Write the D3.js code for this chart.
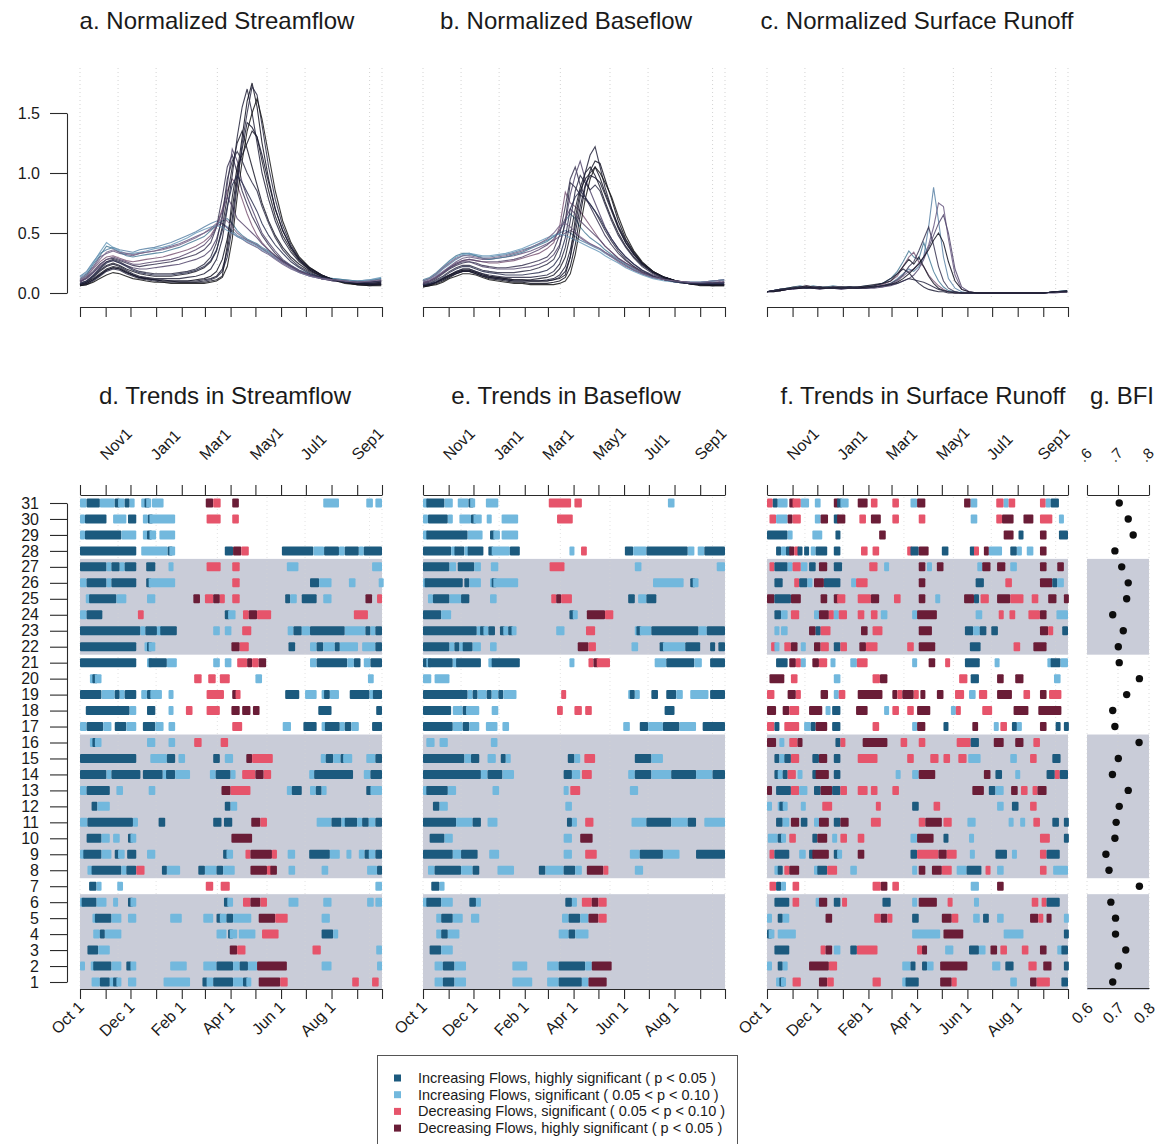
<!DOCTYPE html>
<html><head><meta charset="utf-8">
<script src="https://cdn.jsdelivr.net/npm/d3@7"></script>
<style>
body{margin:0;background:#fff;}
svg text{font-family:"Liberation Sans",Arial,Helvetica,sans-serif;fill:#1a1a1a;}
</style></head><body>
<svg id="fig" width="1166" height="1144"></svg>
<script>
// ---------------- data ----------------
// days since Oct 1 at which the normalized hydrographs are sampled
const dayGrid = [0,8,16,24,32,40,48,56,64,72,80,90,100,110,120,130,140,150,158,165,172,178,184,190,196,202,208,214,220,228,236,245,255,265,278,292,306,320,335,350,364];

const streamflowSeries = [
  [0.14,0.18,0.26,0.33,0.36,0.38,0.36,0.35,0.34,0.36,0.37,0.38,0.40,0.42,0.45,0.48,0.51,0.55,0.58,0.60,0.58,0.55,0.52,0.48,0.46,0.44,0.42,0.40,0.37,0.34,0.30,0.26,0.22,0.18,0.15,0.13,0.12,0.11,0.10,0.11,0.12],
  [0.12,0.16,0.22,0.30,0.33,0.35,0.33,0.32,0.31,0.33,0.34,0.35,0.37,0.39,0.41,0.44,0.47,0.50,0.53,0.56,0.58,0.54,0.50,0.47,0.45,0.42,0.40,0.38,0.35,0.32,0.28,0.24,0.20,0.17,0.14,0.12,0.11,0.10,0.09,0.10,0.11],
  [0.11,0.15,0.24,0.31,0.39,0.37,0.34,0.31,0.30,0.31,0.32,0.33,0.34,0.36,0.38,0.41,0.44,0.47,0.52,0.57,0.60,0.62,0.58,0.52,0.48,0.45,0.43,0.41,0.38,0.35,0.31,0.27,0.23,0.19,0.16,0.13,0.12,0.11,0.10,0.10,0.12],
  [0.10,0.14,0.20,0.26,0.30,0.31,0.29,0.27,0.26,0.27,0.28,0.29,0.30,0.32,0.34,0.36,0.39,0.43,0.48,0.56,0.70,0.85,0.95,0.90,0.78,0.66,0.56,0.48,0.42,0.36,0.31,0.26,0.22,0.18,0.15,0.12,0.11,0.10,0.09,0.09,0.10],
  [0.09,0.13,0.18,0.24,0.28,0.29,0.27,0.25,0.23,0.22,0.23,0.24,0.25,0.26,0.28,0.30,0.32,0.36,0.42,0.55,0.80,1.05,1.15,1.00,0.85,0.74,0.64,0.56,0.48,0.40,0.33,0.27,0.22,0.18,0.15,0.12,0.10,0.09,0.08,0.09,0.10],
  [0.10,0.12,0.17,0.22,0.26,0.27,0.25,0.23,0.21,0.20,0.20,0.21,0.22,0.23,0.24,0.26,0.28,0.31,0.36,0.45,0.62,0.90,1.20,1.10,0.92,0.80,0.70,0.60,0.50,0.42,0.35,0.28,0.23,0.19,0.15,0.12,0.10,0.09,0.08,0.08,0.09],
  [0.08,0.10,0.14,0.19,0.23,0.25,0.23,0.20,0.18,0.16,0.15,0.14,0.14,0.14,0.15,0.16,0.18,0.21,0.26,0.35,0.55,0.80,1.05,1.25,1.35,1.20,1.05,0.90,0.75,0.60,0.48,0.38,0.30,0.24,0.18,0.14,0.11,0.09,0.08,0.08,0.09],
  [0.07,0.09,0.13,0.18,0.22,0.24,0.22,0.19,0.16,0.14,0.13,0.12,0.12,0.12,0.12,0.13,0.14,0.16,0.20,0.28,0.45,0.70,0.98,1.30,1.55,1.70,1.50,1.25,1.00,0.78,0.60,0.45,0.34,0.26,0.19,0.14,0.11,0.09,0.08,0.08,0.08],
  [0.06,0.08,0.11,0.15,0.19,0.21,0.20,0.17,0.15,0.13,0.12,0.11,0.10,0.10,0.10,0.10,0.11,0.12,0.14,0.18,0.28,0.45,0.70,1.00,1.30,1.60,1.75,1.55,1.25,0.95,0.70,0.52,0.38,0.28,0.20,0.15,0.11,0.09,0.07,0.07,0.07],
  [0.06,0.07,0.10,0.14,0.18,0.20,0.19,0.16,0.14,0.12,0.11,0.10,0.09,0.09,0.09,0.09,0.09,0.10,0.11,0.13,0.18,0.30,0.55,0.90,1.25,1.50,1.72,1.65,1.40,1.05,0.78,0.56,0.40,0.29,0.21,0.15,0.11,0.09,0.07,0.06,0.07],
  [0.06,0.07,0.09,0.12,0.15,0.17,0.16,0.14,0.12,0.11,0.10,0.09,0.09,0.08,0.08,0.08,0.08,0.08,0.09,0.10,0.13,0.22,0.45,0.80,1.10,1.35,1.50,1.62,1.45,1.15,0.85,0.60,0.42,0.30,0.21,0.15,0.11,0.08,0.07,0.06,0.06],
  [0.08,0.10,0.15,0.21,0.26,0.28,0.26,0.23,0.20,0.18,0.17,0.16,0.16,0.16,0.17,0.18,0.20,0.24,0.30,0.42,0.65,0.95,1.10,1.18,1.10,1.00,0.92,0.85,0.72,0.58,0.46,0.36,0.28,0.22,0.17,0.13,0.11,0.10,0.09,0.09,0.10],
  [0.07,0.09,0.12,0.16,0.20,0.22,0.21,0.18,0.15,0.13,0.12,0.11,0.10,0.10,0.09,0.09,0.09,0.09,0.10,0.11,0.14,0.40,0.80,1.05,1.15,1.25,1.35,1.30,1.10,0.85,0.64,0.48,0.36,0.27,0.19,0.14,0.11,0.09,0.08,0.07,0.07],
  [0.13,0.17,0.25,0.34,0.42,0.38,0.35,0.33,0.33,0.34,0.35,0.37,0.38,0.40,0.43,0.46,0.50,0.53,0.55,0.56,0.55,0.52,0.50,0.47,0.45,0.43,0.41,0.39,0.36,0.33,0.29,0.25,0.21,0.17,0.14,0.12,0.11,0.10,0.10,0.11,0.13],
  [0.09,0.12,0.17,0.23,0.28,0.30,0.28,0.26,0.24,0.24,0.25,0.26,0.27,0.28,0.30,0.33,0.36,0.40,0.46,0.55,0.68,0.80,0.72,0.62,0.58,0.54,0.50,0.46,0.41,0.36,0.31,0.26,0.22,0.18,0.15,0.12,0.11,0.10,0.09,0.09,0.10],
  [0.07,0.08,0.11,0.15,0.19,0.21,0.20,0.17,0.15,0.13,0.12,0.11,0.11,0.10,0.10,0.10,0.10,0.11,0.12,0.14,0.20,0.35,0.62,0.95,1.20,1.42,1.38,1.30,1.15,0.92,0.70,0.52,0.38,0.28,0.20,0.15,0.11,0.09,0.08,0.07,0.08],
  [0.08,0.10,0.14,0.20,0.25,0.27,0.25,0.22,0.19,0.17,0.16,0.15,0.15,0.15,0.16,0.17,0.19,0.22,0.27,0.36,0.52,0.72,0.90,0.98,0.92,0.84,0.76,0.68,0.58,0.48,0.40,0.33,0.26,0.21,0.16,0.13,0.11,0.09,0.09,0.09,0.10],
  [0.11,0.14,0.21,0.28,0.34,0.36,0.34,0.33,0.32,0.33,0.34,0.35,0.36,0.38,0.40,0.43,0.46,0.50,0.54,0.58,0.62,0.60,0.55,0.50,0.47,0.44,0.42,0.40,0.37,0.33,0.29,0.25,0.21,0.17,0.14,0.12,0.11,0.10,0.09,0.10,0.11]
];

const baseflowSeries = [
  [0.10,0.12,0.15,0.20,0.24,0.28,0.31,0.32,0.31,0.30,0.30,0.31,0.32,0.34,0.36,0.38,0.41,0.44,0.47,0.50,0.52,0.50,0.47,0.44,0.42,0.40,0.38,0.36,0.33,0.30,0.27,0.23,0.19,0.16,0.13,0.11,0.10,0.09,0.09,0.10,0.11],
  [0.09,0.11,0.14,0.18,0.22,0.26,0.29,0.30,0.29,0.28,0.28,0.29,0.30,0.31,0.33,0.35,0.38,0.41,0.44,0.47,0.50,0.52,0.50,0.46,0.43,0.41,0.39,0.37,0.34,0.31,0.27,0.23,0.19,0.16,0.13,0.11,0.10,0.09,0.08,0.09,0.10],
  [0.11,0.13,0.17,0.22,0.27,0.31,0.33,0.33,0.31,0.29,0.28,0.29,0.30,0.32,0.34,0.37,0.40,0.43,0.47,0.52,0.60,0.66,0.62,0.55,0.50,0.46,0.43,0.40,0.36,0.32,0.28,0.24,0.20,0.16,0.13,0.11,0.10,0.09,0.09,0.10,0.11],
  [0.08,0.10,0.13,0.17,0.21,0.24,0.27,0.28,0.27,0.26,0.25,0.25,0.26,0.27,0.29,0.31,0.33,0.37,0.42,0.55,0.84,0.75,0.72,0.68,0.62,0.56,0.50,0.44,0.39,0.34,0.29,0.25,0.21,0.17,0.14,0.11,0.10,0.09,0.08,0.08,0.09],
  [0.08,0.09,0.12,0.16,0.20,0.23,0.25,0.26,0.25,0.23,0.22,0.21,0.21,0.22,0.23,0.25,0.27,0.30,0.36,0.48,0.72,0.95,1.05,0.90,0.80,0.72,0.64,0.56,0.48,0.40,0.33,0.27,0.22,0.17,0.14,0.11,0.09,0.08,0.08,0.08,0.09],
  [0.09,0.10,0.13,0.17,0.21,0.24,0.26,0.26,0.24,0.22,0.21,0.20,0.20,0.20,0.21,0.22,0.24,0.27,0.32,0.40,0.58,0.82,0.98,1.10,0.95,0.85,0.75,0.65,0.55,0.45,0.37,0.30,0.24,0.19,0.15,0.12,0.10,0.09,0.08,0.08,0.09],
  [0.06,0.07,0.09,0.12,0.15,0.18,0.20,0.20,0.18,0.16,0.14,0.13,0.12,0.11,0.11,0.11,0.12,0.13,0.15,0.20,0.30,0.48,0.70,0.88,1.00,1.05,0.98,0.88,0.76,0.62,0.50,0.39,0.30,0.23,0.17,0.13,0.10,0.08,0.07,0.07,0.07],
  [0.06,0.07,0.09,0.11,0.14,0.17,0.19,0.19,0.17,0.15,0.13,0.12,0.11,0.10,0.10,0.10,0.10,0.11,0.12,0.15,0.22,0.36,0.56,0.80,1.00,1.15,1.22,1.05,0.88,0.70,0.55,0.42,0.32,0.24,0.17,0.13,0.10,0.08,0.07,0.06,0.07],
  [0.05,0.06,0.08,0.10,0.13,0.16,0.18,0.18,0.16,0.14,0.12,0.11,0.10,0.09,0.09,0.08,0.08,0.08,0.09,0.10,0.13,0.22,0.40,0.65,0.88,1.02,1.10,1.08,0.95,0.78,0.60,0.45,0.34,0.25,0.18,0.13,0.10,0.08,0.07,0.06,0.06],
  [0.06,0.07,0.09,0.12,0.15,0.18,0.20,0.20,0.18,0.16,0.15,0.14,0.13,0.13,0.13,0.13,0.14,0.15,0.18,0.24,0.38,0.60,0.85,0.98,0.92,0.86,0.90,0.85,0.74,0.60,0.48,0.38,0.29,0.22,0.16,0.12,0.10,0.08,0.07,0.07,0.08],
  [0.05,0.06,0.07,0.09,0.12,0.14,0.16,0.16,0.15,0.13,0.11,0.10,0.09,0.08,0.08,0.07,0.07,0.07,0.07,0.08,0.10,0.16,0.32,0.55,0.78,0.95,1.05,1.00,0.92,0.80,0.64,0.48,0.35,0.26,0.18,0.13,0.10,0.08,0.06,0.06,0.06],
  [0.07,0.08,0.11,0.14,0.18,0.21,0.23,0.23,0.21,0.19,0.18,0.17,0.17,0.17,0.18,0.19,0.21,0.24,0.28,0.38,0.60,0.92,0.88,0.82,0.78,0.74,0.68,0.60,0.52,0.43,0.35,0.28,0.22,0.18,0.14,0.11,0.09,0.08,0.08,0.08,0.09],
  [0.06,0.07,0.09,0.12,0.15,0.17,0.19,0.19,0.17,0.15,0.14,0.13,0.12,0.11,0.11,0.10,0.10,0.10,0.11,0.12,0.15,0.30,0.62,0.85,0.95,1.00,1.05,0.96,0.84,0.70,0.56,0.44,0.33,0.25,0.18,0.13,0.10,0.08,0.07,0.07,0.07],
  [0.10,0.12,0.16,0.21,0.26,0.30,0.32,0.33,0.32,0.31,0.31,0.32,0.33,0.35,0.37,0.40,0.43,0.46,0.48,0.49,0.48,0.46,0.44,0.42,0.40,0.38,0.36,0.34,0.31,0.28,0.25,0.21,0.18,0.15,0.12,0.10,0.09,0.09,0.09,0.10,0.11],
  [0.08,0.10,0.13,0.17,0.21,0.25,0.27,0.28,0.27,0.26,0.26,0.26,0.27,0.28,0.30,0.33,0.36,0.40,0.45,0.52,0.62,0.70,0.66,0.60,0.56,0.52,0.48,0.44,0.39,0.34,0.29,0.25,0.21,0.17,0.14,0.11,0.10,0.09,0.08,0.08,0.09],
  [0.06,0.07,0.09,0.11,0.14,0.16,0.18,0.18,0.16,0.14,0.13,0.12,0.11,0.10,0.10,0.10,0.10,0.10,0.11,0.13,0.18,0.30,0.50,0.72,0.90,0.98,0.96,0.92,0.82,0.68,0.54,0.42,0.32,0.24,0.17,0.13,0.10,0.08,0.07,0.07,0.07],
  [0.07,0.08,0.10,0.13,0.17,0.20,0.22,0.22,0.20,0.18,0.17,0.16,0.15,0.15,0.15,0.16,0.17,0.19,0.23,0.30,0.46,0.70,0.80,0.85,0.80,0.74,0.68,0.62,0.54,0.45,0.37,0.30,0.24,0.19,0.14,0.11,0.09,0.08,0.08,0.08,0.08],
  [0.10,0.12,0.16,0.21,0.25,0.29,0.31,0.31,0.30,0.29,0.29,0.30,0.31,0.33,0.35,0.38,0.41,0.45,0.50,0.56,0.58,0.55,0.51,0.47,0.44,0.41,0.39,0.37,0.34,0.30,0.26,0.22,0.19,0.16,0.13,0.11,0.10,0.09,0.09,0.10,0.11]
];

const runoffSeries = [
  [0.01,0.02,0.03,0.04,0.04,0.05,0.04,0.05,0.05,0.04,0.05,0.04,0.04,0.04,0.05,0.05,0.06,0.08,0.12,0.16,0.20,0.18,0.22,0.30,0.55,0.88,0.60,0.30,0.12,0.04,0.01,0.00,0.00,0.00,0.00,0.00,0.00,0.00,0.00,0.01,0.02],
  [0.01,0.02,0.02,0.03,0.04,0.04,0.05,0.04,0.04,0.05,0.04,0.04,0.05,0.04,0.04,0.05,0.05,0.07,0.10,0.14,0.18,0.20,0.25,0.30,0.40,0.55,0.75,0.72,0.45,0.15,0.03,0.01,0.00,0.00,0.00,0.00,0.00,0.00,0.00,0.01,0.01],
  [0.01,0.02,0.03,0.04,0.05,0.06,0.05,0.06,0.05,0.05,0.06,0.05,0.05,0.05,0.06,0.06,0.08,0.12,0.18,0.26,0.35,0.30,0.28,0.42,0.30,0.18,0.10,0.05,0.02,0.01,0.00,0.00,0.00,0.00,0.00,0.00,0.00,0.00,0.00,0.01,0.02],
  [0.01,0.02,0.02,0.03,0.04,0.05,0.06,0.05,0.05,0.04,0.05,0.05,0.04,0.05,0.05,0.06,0.07,0.10,0.14,0.22,0.30,0.34,0.26,0.22,0.15,0.10,0.06,0.03,0.01,0.00,0.00,0.00,0.00,0.00,0.00,0.00,0.00,0.00,0.00,0.01,0.01],
  [0.01,0.02,0.03,0.03,0.04,0.05,0.05,0.04,0.05,0.04,0.04,0.05,0.05,0.04,0.05,0.05,0.06,0.08,0.11,0.15,0.22,0.26,0.35,0.45,0.55,0.40,0.22,0.10,0.04,0.01,0.00,0.00,0.00,0.00,0.00,0.00,0.00,0.00,0.00,0.01,0.01],
  [0.01,0.01,0.02,0.03,0.03,0.04,0.04,0.04,0.03,0.04,0.04,0.03,0.04,0.04,0.04,0.04,0.05,0.06,0.08,0.10,0.12,0.15,0.20,0.28,0.38,0.48,0.58,0.65,0.50,0.20,0.05,0.01,0.00,0.00,0.00,0.00,0.00,0.00,0.00,0.00,0.01],
  [0.01,0.02,0.03,0.04,0.05,0.05,0.06,0.05,0.05,0.05,0.05,0.05,0.05,0.05,0.06,0.07,0.08,0.10,0.16,0.22,0.28,0.24,0.30,0.22,0.14,0.08,0.04,0.02,0.01,0.00,0.00,0.00,0.00,0.00,0.00,0.00,0.00,0.00,0.00,0.01,0.02],
  [0.01,0.02,0.02,0.03,0.04,0.04,0.04,0.05,0.04,0.04,0.05,0.04,0.05,0.05,0.05,0.06,0.08,0.12,0.16,0.20,0.17,0.12,0.08,0.05,0.03,0.02,0.01,0.01,0.00,0.00,0.00,0.00,0.00,0.00,0.00,0.00,0.00,0.00,0.00,0.01,0.01],
  [0.01,0.01,0.02,0.03,0.04,0.04,0.05,0.04,0.04,0.04,0.04,0.04,0.04,0.04,0.05,0.05,0.06,0.07,0.09,0.12,0.16,0.20,0.24,0.30,0.36,0.44,0.50,0.42,0.26,0.10,0.03,0.01,0.00,0.00,0.00,0.00,0.00,0.00,0.00,0.01,0.01],
  [0.01,0.02,0.03,0.03,0.04,0.05,0.04,0.04,0.05,0.04,0.04,0.04,0.05,0.04,0.04,0.05,0.06,0.07,0.08,0.10,0.12,0.11,0.10,0.09,0.07,0.05,0.03,0.02,0.01,0.01,0.00,0.00,0.00,0.00,0.00,0.00,0.00,0.00,0.00,0.01,0.01]
];

// line colours of the individual hydrographs
const seriesColors = ["#5b82a6","#6a5a82","#4a7d98","#7d5877","#3a3552","#52466c","#1c1c2c","#22223a","#101020","#2a2a44","#141414","#303048","#1a1a28","#6b9bbb","#5a4a70","#191930","#2c3050","#7a6a8c"];

// trend runs per basin (basin 1 first); D/L = increasing (p<0.05 / p<0.10), P/M = decreasing (p<0.10 / p<0.05); numbers = days since Oct 1
const streamflowTrends = [
  "L14-24 D24-36 L36-40 D40-44 L44-50 L58-68 L101-133 D148-153 L153-161 D161-185 L185-197 D197-201 L201-207 M216-242 P242-251 P329-337 P353-361",
  "L0-2 L13-16 D16-38 L38-50 D56-61 L61-68 L109-129 L149-165 D165-185 L185-193 D193-203 L203-214 M214-250 L292-304 L359-365",
  "D9-22 L22-36 M181-190 P190-200 P281-291 L358-365",
  "L16-24 D24-30 L30-50 L165-177 D179-181 L181-190 L192-212 P220-240 D292-306 L306-312",
  "L15-18 D18-38 L38-50 L58-68 L109-123 L149-161 D165-169 L169-177 D177-185 L185-207 M216-236 P236-251 L292-302",
  "L0-2 D2-20 L20-32 L40-46 D58-61 L61-68 D174-178 L178-185 P197-206 M206-218 P218-226 L252-264 L294-304 L347-355 L357-365",
  "D11-20 L20-26 L45-52 P152-161 P170-181 L357-365",
  "L9-14 D14-50 L50-56 D56-68 P68-78 D99-105 L105-121 D143-151 L151-165 D165-173 L173-187 M206-226 P226-230 M230-238 L252-260 L292-300 L347-359 D359-365",
  "L0-4 D4-26 L26-38 D42-46 L46-54 D57-68 L81-91 D173-177 L177-185 P200-206 M206-232 P232-238 L251-260 D277-302 L302-314 L322-328 L337-344 D344-349 L349-357 D357-365",
  "D8-26 L26-36 L40-48 D58-61 L61-68 M183-208",
  "L0-9 D9-64 L64-70 D95-103 D161-171 D174-184 M207-218 P218-226 L286-304 D304-316 L316-320 D320-335 L335-341 D341-349 L349-357 D357-365",
  "D14-21 L21-36 D175-182 L182-190",
  "L0-8 D8-36 L44-52 L83-91 M171-182 P182-206 L250-256 D256-268 L278-285 D285-292 L292-298 D346-351 L351-365",
  "D0-32 L32-38 D38-73 D76-100 L100-104 D104-115 L115-133 L157-164 D164-182 L182-186 P196-212 M212-222 P222-231 L277-283 D283-330 L343-351 D351-365",
  "D0-68 L85-105 D105-115 L119-127 D161-169 L175-185 M201-208 P208-233 L291-297 D297-306 L306-315 D315-318 L318-329 L346-357 D357-365",
  "L12-15 D15-18 L18-26 L81-91 L107-115 P138-147 P170-179",
  "L0-8 D8-28 L28-38 D42-56 L56-68 D76-91 L91-101 L107-115 P184-196 L245-255 D270-286 L292-296 D296-314 L314-320 D320-328 L328-337 D353-365",
  "D7-60 L60-68 D81-91 L107-113 P128-136 P153-169 M183-193 M196-206 M209-217 D288-304 D358-365",
  "D0-26 L26-42 D42-48 L48-54 D54-68 L74-81 D81-85 L85-99 L107-113 P153-174 M184-188 P188-194 D248-265 L272-286 L292-295 D295-302 L302-313 D326-350 L350-354 D354-365",
  "L12-15 D15-18 L18-26 P138-147 P155-164 P169-181 L212-220 L348-355",
  "D0-68 L81-83 D83-105 L105-117 L161-169 L175-183 P190-202 M202-208 P208-216 M216-225 L278-286 D286-323 L323-331 D331-339 L343-351 D351-365",
  "D0-68 L78-81 D81-83 L83-91 M183-193 P193-204 D252-260 L278-286 D286-294 L294-308 D308-314 L314-336 L341-357 D357-365",
  "D0-73 L73-79 D79-93 L93-97 D97-117 L161-169 L175-183 P196-207 L251-258 D258-268 L268-278 D278-320 L320-345 D345-351 L351-357 D357-365",
  "L0-8 D8-27 P70-77 D175-179 L179-188 P197-204 M204-214 P214-231 P331-348",
  "L7-11 D11-44 L44-56 L81-91 M137-145 P151-161 M161-169 P169-175 P184-193 D248-254 L254-262 D268-286 L294-304 M345-353 P359-365",
  "L0-8 D8-32 L32-38 D38-68 D80-83 L83-115 P184-193 D278-289 L289-304 L325-333 L361-365",
  "D0-32 L32-38 D38-48 L48-54 D54-68 D80-91 L107-113 P153-170 P184-193 L250-264 L353-365",
  "D0-68 L74-106 D106-108 L108-115 D175-185 M185-195 P195-204 D244-282 L282-295 D295-313 L313-320 D320-337 L337-343 D343-365",
  "L0-6 D6-50 L50-68 L76-81 D81-84 L84-92 L96-115",
  "L0-6 D6-32 L40-56 D58-68 L76-82 D82-84 L84-115 P153-170 P184-192",
  "L0-8 D8-24 L24-42 D42-46 L46-54 D54-60 L60-66 L74-78 D78-80 L80-82 L87-101 M152-161 P161-170 M184-192 L294-313 L346-354 L357-365"
];

const baseflowTrends = [
  "L14-24 D24-38 L38-52 L108-132 L150-164 D164-192 L192-200 M200-222",
  "L14-24 D24-38 L38-52 L108-126 L150-164 D164-196 L196-204 M204-228",
  "D8-22 L22-36",
  "L16-22 D22-30 L30-44 L164-176 D176-184 L184-200",
  "L16-22 D22-36 L36-48 L58-68 L168-176 D176-190 L190-200 M200-212 P212-222",
  "L0-4 D4-22 L22-36 D56-64 L64-70 D172-180 L180-186 P192-204 M204-212 P212-222",
  "D10-20 L20-26",
  "L6-14 D14-46 L46-60 D60-68 L90-110 D140-148 L148-170 D170-184 L184-192 M198-218 P218-224 L256-266",
  "D0-36 L36-46 D46-66 L80-92 L170-180 P196-210 L250-262 D262-290 L290-310 D330-365",
  "D8-26 L26-36 L170-180 M190-205",
  "D0-40 L40-60 D60-70 L78-90 D174-180 L180-186 P196-206 L252-270 D270-300 L300-320 D320-330 L340-365",
  "D12-20 L20-30 L172-180",
  "L0-4 D4-30 L30-40 L84-92 L170-176 P178-190 L250-260",
  "D0-70 L70-78 D78-96 L96-110 D170-180 L180-190 P192-204 L248-256 D256-276 L276-300 D300-330 L330-350 D350-365",
  "D0-50 L50-58 D58-68 L78-88 D94-100 L100-106 D175-183 L183-190 P195-208 D256-276 L276-290",
  "L4-14 L20-30 L82-90",
  "D0-36 L36-48 D48-56 L56-68 L76-90 L96-104 L242-250 D262-272 L272-290 D290-310 L310-330 D338-365",
  "D0-34 L36-48 D48-52 L52-68 L83-91 P162-169 P183-192 P196-204 D292-304",
  "D0-54 L54-60 D60-66 L66-77 D77-83 L83-91 D91-97 L97-113 P167-173 L248-250 D250-256 L256-258 D276-284 D294-306 L306-314 L323-345 D347-365",
  "L0-10 L14-32",
  "D0-4 L4-6 D6-36 L36-40 D40-70 L79-83 D83-117 L177-183 P200-206 M206-210 P210-226 L280-294 D294-328 L328-337 D347-365",
  "D0-32 L32-38 D38-44 L44-48 D48-60 L60-70 L81-89 M187-200 P200-209 L252-260 D286-290 L290-317 D317-335 D347-353 D357-365",
  "D0-65 L65-69 D69-73 L73-77 D79-87 D93-97 L97-103 D103-107 L107-111 L161-171 P197-208 L256-258 D258-262 L262-276 D276-333 L333-343 D343-365",
  "D0-22 L22-34 D177-181 L181-187 M198-220 P220-230",
  "L6-12 D12-32 L32-46 D46-56 L81-89 P155-161 M161-167 P167-180 D248-256 L260-270 D270-282",
  "L0-2 D2-48 D50-56 L56-70 L81-83 D83-85 L85-115 L278-315 D323-326 L326-333",
  "D0-32 L32-40 D42-62 L62-70 L82-91 P153-171 L256-264 L355-365",
  "D0-34 L34-38 D38-50 L50-54 D54-73 D79-83 L83-105 D105-117 L177-183 P191-198 D244-254 L254-270 D270-320 L320-328 L332-340 D340-365",
  "L0-4 D4-54 L54-72 D81-85 L85-93 L95-115",
  "L0-6 D6-30 L30-36 L44-58 D58-61 L61-71 L77-83 L95-115 P162-181",
  "L0-4 D4-26 L26-36 L42-55 D55-57 L57-60 L76-91 P152-179 P183-192 L296-304"
];

const runoffTrends = [
  "L11-15 D15-17 L17-19 P31-41 M63-73 P73-81 P128-138 L164-168 D168-184 M210-224 P224-230 L295-303 M319-327 P327-343 D357-365",
  "L0-5 D13-19 L19-25 M51-75 P75-85 L164-174 D174-178 D188-194 L194-202 M210-243 L273-283 D289-299 P317-327 M335-345 D360-365",
  "D9-27 P65-71 M71-79 L81-89 D101-109 P109-134 P182-188 M188-192 L216-226 D245-257 L257-265 M271-279 P283-291 P309-317 M331-339 L352-356 D357-365",
  "D0-2 L2-9 L13-35 L176-210 M214-238 L287-311 D360-365",
  "L0-5 D13-19 L19-27 M71-79 P130-138 M138-146 P146-150 D176-184 M212-224 P224-232 L250-258 D262-269 L279-287 M319-329 P329-335 M339-345 L360-365",
  "D9-27 P31-39 L59-63 M63-73 D81-89 P91-97 D140-150 L176-182 M184-206 P219-225 L251-257 P321-329 P333-339 D339-355",
  "P3-11 D11-17 L17-23 P31-39 P128-138 M138-146 P152-160 L247-257 M279-287",
  "L9-13 D13-19 P21-27 M27-39 L57-61 D61-73 P73-85 L101-109 L176-180 M184-192 M200-212 P212-224 L230-242 D242-260 P265-271 L279-287 P331-339 L347-365",
  "P3-9 D9-27 L39-47 D51-55 M55-75 D81-85 L85-89 M110-118 D174-182 P182-208 M208-218 P218-230 L246-252 D277-291 L297-303 P331-339 D339-355",
  "L1-13 D13-17 L17-23 P27-35 D55-61 M61-73 L79-85 P89-97 P110-118 L174-182 M182-202 D214-220 L245-251 P331-343 D360-365",
  "D11-19 L19-27 M29-39 D41-49 L57-63 M63-75 D81-89 M89-99 P126-138 P184-192 M192-212 P214-224 L243-253 L293-299 L307-313 P323-331 D346-354 D360-365",
  "L0-5 L13-15 D15-19 L19-23 L41-47 P67-79 P132-138 D176-184 P202-210 L279-287 D297-305 P319-327",
  "M0-5 D11-29 P29-39 L39-49 D57-65 M65-79 D79-89 P89-97 P110-122 P126-134 P152-160 M249-263 D269-277 L277-287 M296-304 P308-316 P322-328 M328-339",
  "D9-13 L13-19 D19-25 P25-35 L37-43 D55-59 M59-75 D81-89 L156-162 L176-184 M184-204 M263-271 D277-285 L301-307 D339-349 P349-355 D355-365",
  "D9-15 L15-21 D21-29 P29-39 D55-63 M63-73 D81-89 P110-134 P170-178 P198-208 P214-222 P232-242 L244-259 L295-303 P319-327 D346-356",
  "M0-11 L15-19 P27-37 M37-43 D83-89 P89-95 M116-146 P162-170 P184-192 P230-247 D247-257 M275-287 M301-311 P323-331",
  "P0-9 D9-15 P21-39 L45-53 D53-59 M59-73 D79-89 P128-136 L176-182 M182-192 D214-220 M249-256 L275-281 P283-291 D297-303 L303-309 M331-339 D350-356 D360-365",
  "M0-11 M19-27 P27-39 M51-67 L71-77 D79-89 M108-122 L142-148 P152-160 P170-178 M182-198 L223-229 P229-235 P261-273 M299-317 M329-357",
  "P0-9 M25-35 P35-41 M65-74 L81-85 P87-95 M110-140 M152-158 P158-164 M164-178 P178-182 M186-192 M206-214 P228-239 L245-253 P257-267 M279-297 P311-319 M331-339 P342-357",
  "M3-21 P29-37 L81-89 P128-137 M137-146 P233-243 D247-257 M279-287 M301-311 L348-356",
  "D11-25 M27-35 P35-41 L41-47 M55-63 P63-73 L77-83 L101-109 P109-122 L176-182 M196-204 P216-222 D240-258 L276-282 L340-344 D344-356 L356-365",
  "P5-9 L9-13 P21-29 M29-37 L41-47 M57-65 P65-75 D81-89 P89-97 M112-120 P120-134 P170-178 M184-204 D246-259 P299-307 M323-339",
  "L9-15 L17-25 M51-59 D59-65 P65-77 M114-122 P128-140 M184-200 D240-250 L250-258 D258-266 D272-280 M331-341 P341-345 D358-365",
  "D9-17 L17-25 P29-39 L57-63 M63-75 P75-81 L81-85 P87-97 P110-118 P126-134 L138-146 L176-182 M182-206 L253-261 P281-287 P294-301 P317-331 M331-339 L351-365",
  "M0-9 D9-29 M29-41 M65-73 M81-85 P85-95 P110-126 M126-136 P154-162 M184-192 L204-210 M239-251 D251-257 P259-269 M279-295 P295-311 P321-329 M341-351 M360-365",
  "D9-19 P33-39 D39-49 L49-53 M57-69 D69-89 L102-108 P108-122 M184-192 D253-263 P289-297 M331-346 D346-352 L352-360",
  "P3-9 D9-25 L25-31 P31-41 L41-49 D51-59 M63-73 D81-91 P124-134 L142-148 M184-192 L194-200 M206-214 L255-261 M261-271 M279-289 L295-303 M331-339 M352-360",
  "D11-17 L17-23 D23-27 M27-33 P33-37 D37-43 D45-49 L53-59 D59-73 D81-89 P114-122 P128-136 P170-174 D174-184 M184-196 D212-220 D246-251 P251-257 M263-269 L269-285 D295-303 L303-309 L315-323 M331-339",
  "D0-25 L25-31 L55-67 D83-89 M136-144 M287-299 D305-311 M331-339 D354-365",
  "P3-11 L11-25 M25-31 P31-41 L58-65 M65-74 D81-85 M85-95 P112-120 M126-138 P152-160 P184-192 L247-255 P278-285 M285-299 M311-323 P331-346 L354-360",
  "P0-7 D7-13 L13-25 M27-31 P31-41 L41-51 L58-65 M81-85 D85-89 L89-99 M110-122 P126-134 P152-160 L174-182 M182-192 M239-247 L247-255 P278-287 L287-293 P293-301 P331-338 L338-344 D344-354"
];

// baseflow index per basin (basin 1 first)
const bfiValues = [0.683,0.701,0.725,0.692,0.692,0.677,0.769,0.671,0.661,0.690,0.694,0.704,0.733,0.682,0.701,0.768,0.690,0.683,0.728,0.769,0.704,0.701,0.717,0.683,0.728,0.733,0.712,0.690,0.749,0.733,0.704];

// basins grouped into shaded regions
const shadedGroups = [[1,6],[8,16],[22,27]];

const monthDays = [0,31,61,92,123,151,182,212,243,273,304,335,365];
const topMonthLabels = [[31,"Nov1"],[92,"Jan1"],[151,"Mar1"],[212,"May1"],[273,"Jul1"],[335,"Sep1"]];
const bottomMonthLabels = [[0,"Oct 1"],[61,"Dec 1"],[123,"Feb 1"],[182,"Apr 1"],[243,"Jun 1"],[304,"Aug 1"]];
const guideDays = [0,46,92,166,226,272,350,365];
const topTitles = ["a. Normalized Streamflow","b. Normalized Baseflow","c. Normalized Surface Runoff"];
const trendTitles = ["d. Trends in Streamflow","e. Trends in Baseflow","f. Trends in Surface Runoff","g. BFI"];
const legendLabels = [
  ["D","Increasing Flows, highly significant ( p < 0.05 )"],
  ["L","Increasing Flows, significant ( 0.05 < p < 0.10 )"],
  ["P","Decreasing Flows, significant ( 0.05 < p < 0.10 )"],
  ["M","Decreasing Flows, highly significant ( p < 0.05 )"]
];

// ---------------- drawing ----------------
const classColor = {D:"#1c5a7e", L:"#72b8dd", P:"#e6546b", M:"#6a1d37"};
const bandColor = "#c9ccd8";
const axisColor = "#2a2a2a";

const svg = d3.select("#fig");
const panelRanges = [[80,382],[423,725],[767,1068]];
const xScales = panelRanges.map(r => d3.scaleLinear().domain([0,365]).range(r));
const yTop = d3.scaleLinear().domain([0,1.5]).range([293,113]);
const yRow = d3.scaleLinear().domain([1,31]).range([982,503]);
const xBfi = d3.scaleLinear().domain([0.6,0.8]).range([1087,1149]);
const rowHalf = (yRow(1) - yRow(2)) / 2;

function styleAxis(g){
  g.selectAll("path,line").attr("stroke",axisColor).attr("stroke-width",1.1);
  g.select(".domain").attr("fill","none");
}

// ---- upper row: normalized hydrographs ----
const topData = [streamflowSeries, baseflowSeries, runoffSeries];
topData.forEach((series, p) => {
  const x = xScales[p];
  const g = svg.append("g");
  g.selectAll("line.guide").data(guideDays).join("line")
    .attr("x1", d => x(d)).attr("x2", d => x(d))
    .attr("y1", 68).attr("y2", 300)
    .attr("stroke","#c8c8c8").attr("stroke-dasharray","1,3").attr("stroke-width",0.8);
  const line = d3.line().x((v,i) => x(dayGrid[i])).y(v => yTop(v));
  g.selectAll("path.hydro").data(series).join("path")
    .attr("class","hydro")
    .attr("d", line)
    .attr("fill","none")
    .attr("stroke",(d,i) => seriesColors[i % seriesColors.length])
    .attr("stroke-width",1.1)
    .attr("stroke-opacity",0.85);
  const ax = g.append("g").attr("transform","translate(0,307)")
    .call(d3.axisBottom(x).tickValues(monthDays).tickFormat("").tickSize(10).tickSizeOuter(0));
  styleAxis(ax);
  svg.append("text").attr("x",[217,566,917][p]).attr("y",29)
    .attr("text-anchor","middle").attr("font-size",24).text(topTitles[p]);
});
const yAx = svg.append("g").attr("transform","translate(67,0)")
  .call(d3.axisLeft(yTop).tickValues([0,0.5,1,1.5]).tickFormat(d3.format(".1f")).tickSize(17).tickSizeOuter(0).tickPadding(10));
styleAxis(yAx);
yAx.selectAll("text").attr("font-size",16).attr("fill","#1a1a1a");

// ---- lower row: trend panels ----
function parseRuns(str){
  return str.trim().split(/\s+/).map(tok => {
    const m = tok.match(/^([DLPM])(\d+)-(\d+)$/);
    return {cls:m[1], start:+m[2], end:+m[3]};
  });
}
const trendData = [streamflowTrends, baseflowTrends, runoffTrends];
trendData.forEach((rows, p) => {
  const x = xScales[p];
  const g = svg.append("g");
  // shaded basin groups
  g.selectAll("rect.band").data(shadedGroups).join("rect")
    .attr("x", x(0)).attr("width", x(365) - x(0))
    .attr("y", d => yRow(d[1]) - rowHalf)
    .attr("height", d => yRow(d[0]) - yRow(d[1]) + 2 * rowHalf)
    .attr("fill", bandColor);
  g.selectAll("line.guide").data(guideDays).join("line")
    .attr("x1", d => x(d)).attr("x2", d => x(d))
    .attr("y1", 497).attr("y2", 988)
    .attr("stroke","#d4d4d4").attr("stroke-dasharray","1,3").attr("stroke-width",0.8).attr("opacity",0.8);
  // trend runs
  rows.forEach((str, i) => {
    const basin = i + 1;
    const runs = parseRuns(str);
    g.selectAll(null).data(runs).join("rect")
      .attr("x", d => x(d.start))
      .attr("width", d => Math.max(x(d.end) - x(d.start), 5))
      .attr("y", yRow(basin) - 4.5)
      .attr("height", 9)
      .attr("rx", 1)
      .attr("fill", d => classColor[d.cls]);
  });
  // axes
  const top = g.append("g").attr("transform","translate(0,495)")
    .call(d3.axisTop(x).tickValues(monthDays).tickFormat("").tickSize(10).tickSizeOuter(0));
  styleAxis(top);
  const bot = g.append("g").attr("transform","translate(0,989)")
    .call(d3.axisBottom(x).tickValues(monthDays).tickFormat("").tickSize(10).tickSizeOuter(0));
  styleAxis(bot);
  g.selectAll("text.toplab").data(topMonthLabels).join("text")
    .attr("transform", d => `translate(${x(d[0]) + 1},461) rotate(-45)`)
    .attr("font-size",16).text(d => d[1]);
  g.selectAll("text.botlab").data(bottomMonthLabels).join("text")
    .attr("transform", d => `translate(${x(d[0]) + 5},1008) rotate(-45)`)
    .attr("text-anchor","end").attr("font-size",16).text(d => d[1]);
  svg.append("text").attr("x",[225,566,923][p]).attr("y",404)
    .attr("text-anchor","middle").attr("font-size",24).text(trendTitles[p]);
});
const rowAx = svg.append("g").attr("transform","translate(67,0)")
  .call(d3.axisLeft(yRow).tickValues(d3.range(1,32)).tickFormat(d3.format("d")).tickSize(17).tickSizeOuter(0).tickPadding(11));
styleAxis(rowAx);
rowAx.selectAll("text").attr("font-size",16).attr("fill","#1a1a1a");

// ---- BFI panel ----
const gB = svg.append("g");
gB.selectAll("rect.band").data(shadedGroups).join("rect")
  .attr("x", xBfi(0.6)).attr("width", xBfi(0.8) - xBfi(0.6))
  .attr("y", d => yRow(d[1]) - rowHalf)
  .attr("height", d => yRow(d[0]) - yRow(d[1]) + 2 * rowHalf)
  .attr("fill", bandColor);
gB.selectAll("line.guide").data([0.6,0.7,0.8]).join("line")
  .attr("x1", d => xBfi(d)).attr("x2", d => xBfi(d))
  .attr("y1", 497).attr("y2", 987)
  .attr("stroke","#d0d0d0").attr("stroke-dasharray","1,3").attr("stroke-width",0.8);
gB.selectAll("circle").data(bfiValues).join("circle")
  .attr("cx", d => xBfi(d)).attr("cy", (d,i) => yRow(i + 1)).attr("r", 3.7).attr("fill","#0d0d0d");
const bTop = gB.append("g").attr("transform","translate(0,495)")
  .call(d3.axisTop(xBfi).tickValues([0.6,0.7,0.8]).tickFormat("").tickSize(10).tickSizeOuter(0));
styleAxis(bTop);
const bBot = gB.append("g").attr("transform","translate(0,988)")
  .call(d3.axisBottom(xBfi).tickValues([0.6,0.7,0.8]).tickFormat("").tickSize(0).tickSizeOuter(0));
styleAxis(bBot);
gB.selectAll("text.toplab").data([0.6,0.7,0.8]).join("text")
  .attr("transform", d => `translate(${xBfi(d) - 3},463) rotate(-45)`)
  .attr("font-size",15).text(d => d3.format(".1f")(d).replace(/^0/,""));
gB.selectAll("text.botlab").data([0.6,0.7,0.8]).join("text")
  .attr("transform", d => `translate(${xBfi(d) + 7},1009) rotate(-45)`)
  .attr("text-anchor","end").attr("font-size",16).text(d => d3.format(".1f")(d));
svg.append("text").attr("x",1122).attr("y",404).attr("text-anchor","middle").attr("font-size",24).text(trendTitles[3]);

// ---- legend ----
const lg = svg.append("g");
lg.append("rect").attr("x",377.5).attr("y",1055.5).attr("width",360).attr("height",100)
  .attr("fill","#fff").attr("stroke","#555").attr("stroke-width",1);
legendLabels.forEach((d,i) => {
  const cy = 1078 + i * 16.7;
  lg.append("rect").attr("x",394).attr("y",cy - 3.5).attr("width",7).attr("height",7).attr("fill",classColor[d[0]]);
  lg.append("text").attr("x",418).attr("y",cy + 5).attr("font-size",14.5).text(d[1]);
});
</script>
</body></html>
